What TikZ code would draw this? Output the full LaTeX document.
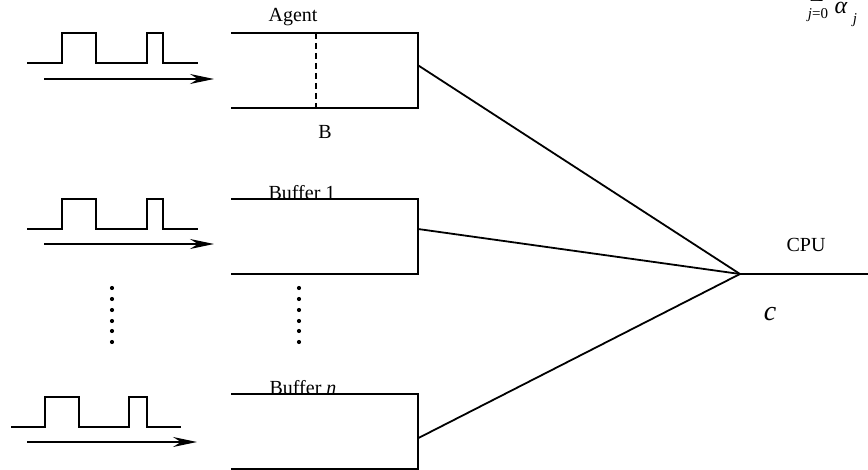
\documentclass[tikz,border=0pt]{standalone}
\usepackage{fontspec}
\setmainfont{Liberation Serif}
\usetikzlibrary{arrows.meta,calc}
\tikzset{
  ln/.style={line width=1.8pt, line cap=butt, line join=miter},
  arr/.style={ln, -{Stealth[length=24pt,width=10pt,inset=8pt]}},
  bufbox/.style={minimum width=187pt, minimum height=75pt, inner sep=0pt, outer sep=0pt, draw=none},
  lbl/.style={font=\fontsize{20}{22}\selectfont, inner sep=0pt},
  dotc/.style={circle, fill=black, inner sep=0pt, minimum size=4.2pt},
}
\begin{document}
\begin{tikzpicture}[x=1pt,y=-1pt]
\clip (0,0) rectangle (868,470);
\fill[white] (0,0) rectangle (868,470);
% boxes
\node[bufbox] (b1) at (324.5,70.5) {};
\node[bufbox] (b2) at (324.5,236.5) {};
\node[bufbox] (b3) at (324.5,431.5) {};
\foreach \b in {b1,b2,b3}
  \draw[ln] (\b.north west) -- (\b.north east) -- (\b.south east) -- (\b.south west);
\draw[ln, dashed, dash pattern=on 6pt off 4pt] ($(b1.north west)!0.455!(b1.north east)$) -- ($(b1.south west)!0.455!(b1.south east)$);
% labels
\node[lbl] (agent) at (293,17) {Agent};
\node[lbl] (blbl) at (325,132) {B};
\node[lbl, anchor=base] (buf1) at (302,200) {Buffer 1};
\node[lbl, anchor=base] (bufn) at (303,395) {Buffer \textit{n}};
% pulses
\draw[ln] (27,63) -- (62,63) -- (62,33) -- (96,33) -- (96,63) -- (147,63) -- (147,33) -- (163,33) -- (163,63) -- (198,63);
\draw[ln] (27,229) -- (62,229) -- (62,199) -- (96,199) -- (96,229) -- (147,229) -- (147,199) -- (163,199) -- (163,229) -- (198,229);
\draw[ln] (11,427) -- (45,427) -- (45,397) -- (79,397) -- (79,427) -- (129,427) -- (129,397) -- (147,397) -- (147,427) -- (181,427);
% arrows
\coordinate (a1s) at (44,79);  \coordinate (a1e) at (214,79);
\coordinate (a2s) at (44,244); \coordinate (a2e) at (214,244);
\coordinate (a3s) at (27,442); \coordinate (a3e) at (197,442);
\draw[arr] (a1s) -- (a1e);
\draw[arr] (a2s) -- (a2e);
\draw[arr] (a3s) -- (a3e);
% dots
\foreach \y in {288,299,310,321,331,342} {
  \node[dotc] at (112,\y) {};
  \node[dotc] at (299,\y) {};
}
% CPU
\coordinate (apex) at (740,274);
\coordinate (cpuend) at (868,274);
\draw[ln] ($(b1.north east)!0.43!(b1.south east)$) -- (apex);
\draw[ln] ($(b2.north east)!0.40!(b2.south east)$) -- (apex);
\draw[ln] ($(b3.north east)!0.59!(b3.south east)$) -- (apex);
\draw[ln] (apex) -- (cpuend);
\node[lbl] (cpu) at (806,245) {CPU};
\node[inner sep=0pt, font=\fontsize{28}{30}\selectfont] (cap) at (770,314) {\textit{c}};
% sum (cut off at the top, as in the reference)
\node[inner sep=0pt, anchor=south] (sumsym) at (817,3) {\fontsize{15}{18}\selectfont$\displaystyle\sum$};
\node[inner sep=0pt, font=\fontsize{15}{16}\selectfont] (jlim) at (818,15.5) {\textit{j}=0};
\node[inner sep=0pt, font=\fontsize{24}{26}\selectfont] (alpha) at (841,8) {\textit{α}};
\node[inner sep=0pt, font=\fontsize{15}{16}\selectfont] (jsub) at (855,20) {\textit{j}};
\end{tikzpicture}
\end{document}
